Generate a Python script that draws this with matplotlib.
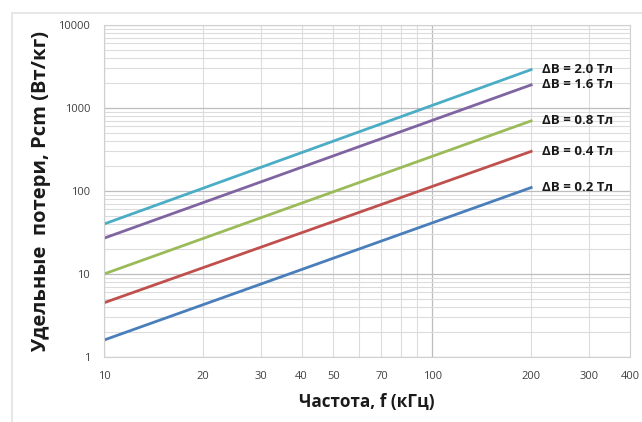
import matplotlib.pyplot as plt
import numpy as np
from matplotlib.ticker import LogLocator, FuncFormatter, NullFormatter
from matplotlib.patches import Rectangle

plt.rcParams['font.family'] = ['Open Sans', 'DejaVu Sans']

# frequency, kHz
freq = [10, 200]
# specific losses, W/kg at 10 and 200 kHz
loss_02 = [1.6, 110]
loss_04 = [4.5, 300]
loss_08 = [10, 700]
loss_16 = [27, 1900]
loss_20 = [40, 2900]
series = [loss_02, loss_04, loss_08, loss_16, loss_20]
names = ['ΔB = 0.2 Тл', 'ΔB = 0.4 Тл', 'ΔB = 0.8 Тл', 'ΔB = 1.6 Тл', 'ΔB = 2.0 Тл']
colors = ['#4a7ebb', '#c0504d', '#9bbb59', '#8064a2', '#4bacc6']
x_labels = [10, 20, 30, 40, 50, 70, 100, 200, 300, 400]

fig = plt.figure(figsize=(6.42, 4.22), dpi=100)
fig.patch.set_facecolor('white')
# outer chart border (only top and left visible)
fig.patches.append(Rectangle((12/642, -0.1), 1.1, 1 - 13/422 + 0.1, transform=fig.transFigure,
                             fill=False, edgecolor='#e3e3e3', lw=1.2))
ax = fig.add_axes([104/642, 1 - 357/422, 526/642, 332/422])

for y, c, n in zip(series, colors, names):
    ax.plot(freq, y, color=c, lw=2)
    ax.annotate(n, (freq[-1], y[-1]), xytext=(8, 0), textcoords='offset points',
                va='center', ha='left', fontsize=9.5, fontweight='bold', color='#1a1a1a')

ax.set_xscale('log')
ax.set_yscale('log')
ax.set_xlim(10, 400)
ax.set_ylim(1, 10000)

ax.xaxis.set_major_locator(LogLocator(base=10))
ax.xaxis.set_minor_locator(LogLocator(base=10, subs=np.arange(2, 10)))
fmt = FuncFormatter(lambda v, p: '%d' % round(v) if round(v) in x_labels else '')
ax.xaxis.set_major_formatter(fmt)
ax.xaxis.set_minor_formatter(fmt)
ax.yaxis.set_major_locator(LogLocator(base=10))
ax.yaxis.set_minor_locator(LogLocator(base=10, subs=np.arange(2, 10)))
ax.yaxis.set_major_formatter(FuncFormatter(lambda v, p: '%d' % round(v)))
ax.yaxis.set_minor_formatter(NullFormatter())

ax.tick_params(which='both', length=0, labelsize=8, labelcolor='#404040')
ax.tick_params(axis='x', which='both', pad=10)
ax.tick_params(axis='y', which='both', pad=10)

ax.grid(which='major', color='#bdbdbd', lw=0.9)
ax.grid(which='minor', color='#dcdcdc', lw=0.8)
ax.set_axisbelow(True)
for s in ax.spines.values():
    s.set_color('#d0d0d0')
    s.set_linewidth(0.8)

ax.set_xlabel('Частота, f (кГц)', fontsize=12.3, fontweight='bold', color='#1a1a1a', labelpad=8)
ax.set_ylabel('Удельные  потери, Pcm (Вт/кг)', fontsize=14.5, fontweight='bold', color='#1a1a1a', labelpad=5)

fig.savefig('out.png', dpi=100)
